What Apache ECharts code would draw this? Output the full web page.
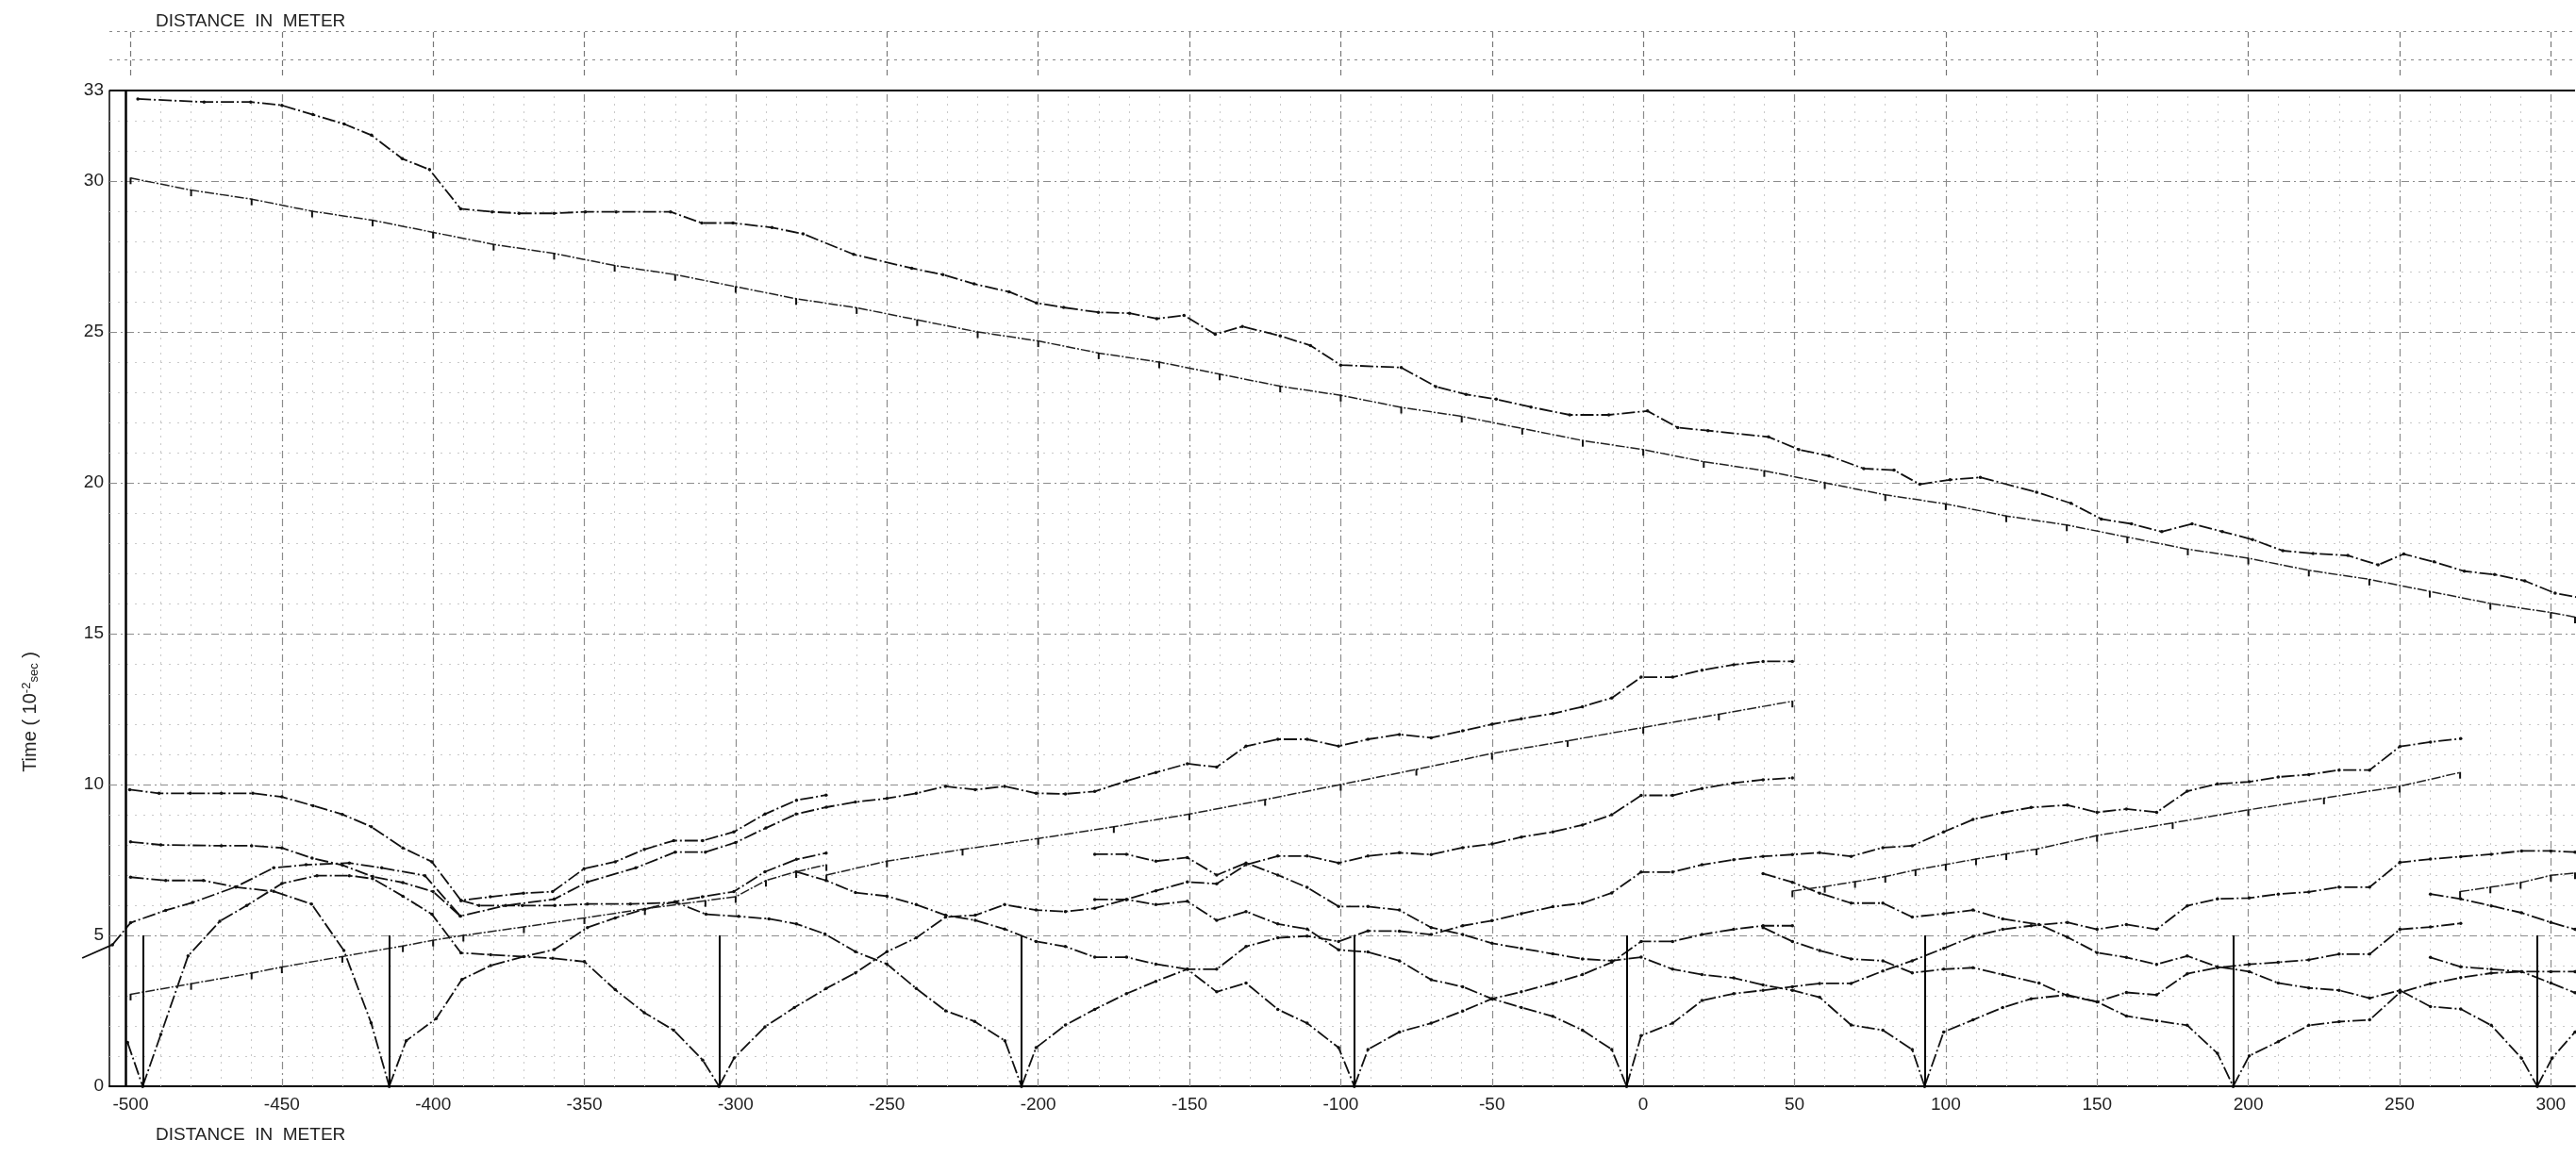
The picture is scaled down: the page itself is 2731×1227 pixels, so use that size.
<!DOCTYPE html>
<html><head><meta charset="utf-8">
<script src="https://cdn.jsdelivr.net/npm/echarts@6/dist/echarts.min.js"></script>
<style>html,body{margin:0;padding:0;background:#fff;}#c{width:2731px;height:1227px;}</style>
</head><body><div id="c"></div>
<script>
// ---------- tick labels ----------
const xTickLabels = [-500,-450,-400,-350,-300,-250,-200,-150,-100,-50,0,50,100,150,200,250,300];
const yTickLabels = [0,5,10,15,20,25,30,33];
// ---------- shot points (vertical markers 0..5) ----------
const shotPositions = [-496,-414.5,-305.5,-205.5,-95.5,-5.5,93,195,295.5];
const shotMarkHeight = [0,5];

// ---------- travel-time curves [distance m, time 1e-2 s] ----------
const farReverse = [[-497.6,32.72],[-475.7,32.62],[-460.3,32.62],[-450,32.51],[-439.7,32.2],[-429.4,31.89],[-420.4,31.52],[-410.2,30.74],[-401.2,30.38],[-390.9,29.08],[-380.5,28.98],[-371.6,28.93],[-360,28.93],[-349.7,28.98],[-339.5,28.98],[-321.5,28.98],[-311.2,28.61],[-300.9,28.61],[-288,28.46],[-277.7,28.25],[-261,27.57],[-241.8,27.11],[-231.5,26.9],[-221.2,26.59],[-209.6,26.33],[-200.6,25.96],[-191.6,25.81],[-180.1,25.65],[-169.8,25.62],[-160.8,25.44],[-151.8,25.55],[-141.5,24.92],[-132.5,25.18],[-120,24.87],[-110,24.55],[-100,23.9],[-80,23.82],[-68.6,23.19],[-58.6,22.93],[-48.6,22.77],[-37.1,22.51],[-24.3,22.25],[-11.4,22.25],[1.4,22.38],[11.4,21.83],[21.4,21.73],[41.4,21.52],[51.4,21.1],[61.4,20.89],[72.9,20.47],[82.9,20.42],[91.4,19.95],[101.4,20.1],[111.4,20.18],[130,19.69],[141.4,19.32],[151.4,18.8],[161.4,18.64],[171.4,18.38],[181.4,18.64],[191.4,18.38],[201.4,18.12],[211.4,17.75],[221.4,17.66],[232.9,17.59],[242.9,17.28],[251.4,17.64],[261.4,17.38],[271.4,17.07],[281.4,16.96],[291.4,16.75],[301.4,16.34],[309,16.2]];
const farReverseFit = [[-500,30.1],[-480,29.7],[-460,29.4],[-440,29.0],[-420,28.7],[-400,28.3],[-380,27.9],[-360,27.6],[-340,27.2],[-320,26.9],[-300,26.5],[-280,26.1],[-260,25.8],[-240,25.4],[-220,25.0],[-200,24.7],[-180,24.3],[-160,24.0],[-140,23.6],[-120,23.2],[-100,22.9],[-80,22.5],[-60,22.2],[-40,21.8],[-20,21.4],[0,21.1],[20,20.7],[40,20.4],[60,20.0],[80,19.6],[100,19.3],[120,18.9],[140,18.6],[160,18.2],[180,17.8],[200,17.5],[220,17.1],[240,16.8],[260,16.4],[280,16.0],[300,15.7],[308,15.55]];

const curveA = [[-500.3,9.83],[-490.6,9.71],[-480.3,9.71],[-470,9.71],[-459.6,9.71],[-450,9.59],[-439.7,9.3],[-430,9.01],[-420.4,8.6],[-410,7.9],[-400.4,7.44],[-390.8,6.16],[-381.1,6.28],[-370.1,6.4],[-360.5,6.45],[-350.1,7.21],[-339.8,7.44],[-330.2,7.85],[-320.5,8.14],[-310.9,8.14],[-300.6,8.43],[-290.3,9.02],[-279.9,9.48],[-270.1,9.65]];
const curveB = [[-500,8.1],[-490,8.0],[-470,7.97],[-460,7.97],[-450,7.9],[-440,7.56],[-430,7.33],[-420,6.95],[-410,6.75],[-400,6.45],[-391,5.64],[-376,5.99],[-360,6.2],[-349,6.77],[-333,7.24],[-320,7.76],[-310,7.76],[-300,8.08],[-290,8.56],[-280,9.02],[-270,9.25],[-260.4,9.42],[-250,9.54],[-240.3,9.71],[-230.6,9.94],[-220.8,9.83],[-211.1,9.94],[-200.7,9.71],[-191,9.69],[-181.3,9.77],[-170.8,10.12],[-161.1,10.4],[-150.7,10.69],[-141,10.58],[-131.3,11.27],[-120.8,11.5],[-111.1,11.5],[-100.7,11.27],[-91,11.5],[-80.6,11.66],[-70.1,11.55],[-59.7,11.78],[-50,12.0],[-40.3,12.18],[-29.9,12.35],[-20.1,12.58],[-10.4,12.87],[-0.7,13.56],[9.7,13.56],[19.4,13.79],[29.9,13.97],[39.6,14.08],[49.3,14.08]];
const curveC = [[-496,0],[-490,1.72],[-481,4.32],[-470.5,5.47],[-461.6,5.99],[-450,6.72],[-438.4,6.98],[-427.7,6.98],[-420,6.88],[-410,6.3],[-400.4,5.7],[-390.8,4.42],[-381,4.36],[-360.5,4.24],[-350,4.13],[-339.8,3.2],[-330.2,2.44],[-320.5,1.86],[-310.9,0.87],[-305.5,0]];
const curveDLead = [[-516,4.25],[-506,4.69]];
const curveD = [[-506,4.69],[-500,5.42],[-488.4,5.83],[-479.5,6.09],[-465.2,6.61],[-452.7,7.24],[-442,7.34],[-427.7,7.4],[-417,7.24],[-402.7,6.98],[-391,5.64]];
const curveE = [[-500,6.93],[-488.4,6.82],[-475.9,6.82],[-465.2,6.6],[-452.7,6.46],[-440.2,6.04],[-429.5,4.5],[-420.5,2.1],[-414.5,0]];
const curveF = [[-414.5,0],[-408.9,1.51],[-399,2.24],[-390.5,3.54],[-381,4.0],[-370,4.3],[-360,4.53],[-349,5.26],[-339.8,5.58],[-330,5.87],[-320,6.12],[-311,6.28],[-300.6,6.45],[-290.3,7.11],[-279.9,7.52],[-270.1,7.73]];
const fitL1 = [[-500,3.05],[-480,3.4],[-460,3.75],[-450,3.95],[-430,4.3],[-410,4.65],[-400,4.84],[-390,5.0],[-370,5.28],[-350,5.58],[-330,5.88],[-310,6.15],[-300,6.28],[-290,6.82],[-280,7.11],[-270,7.34]];
const curveG = [[-390.8,6.16],[-384.8,5.99],[-370.5,5.99],[-359.8,5.99],[-349,6.04],[-334.8,6.04],[-319.6,6.09],[-309.8,5.7],[-299,5.63],[-289,5.55],[-279.9,5.38],[-270.5,5.05],[-260.4,4.46],[-250,4.05],[-240.3,3.24],[-230.6,2.5],[-221,2.15],[-211,1.51],[-205.5,0]];
const curveH = [[-305.5,0],[-300.5,0.94],[-290.3,1.97],[-280.6,2.61],[-270.1,3.24],[-260.4,3.76],[-250,4.46],[-240.3,4.92],[-230.6,5.61],[-220.8,5.67],[-211.1,6.02],[-200.7,5.84],[-191,5.79],[-181.3,5.9],[-170.8,6.19],[-161.1,6.48],[-150.7,6.77],[-141,6.71],[-131.3,7.34],[-120.8,7.63],[-111.1,7.63],[-100.7,7.4],[-91,7.63],[-80.6,7.74],[-70.1,7.68],[-59.7,7.91],[-50,8.03],[-40.3,8.26],[-29.9,8.43],[-20.1,8.66],[-10.4,9.0],[-0.7,9.64],[9.7,9.64],[19.4,9.87],[29.9,10.05],[39.6,10.16],[49.3,10.22]];
const curveI = [[-205.5,0],[-200.7,1.28],[-191,2.03],[-181.3,2.55],[-170.8,3.07],[-161.1,3.48],[-150.7,3.88],[-141,3.88],[-131.3,4.63],[-120.8,4.92],[-111.1,4.98],[-100.7,4.8],[-91,5.15],[-80.6,5.14],[-70.1,5.03],[-59.7,5.32],[-50,5.49],[-40.3,5.72],[-29.9,5.95],[-20.1,6.07],[-10.4,6.41],[-0.7,7.1],[9.7,7.1],[19.4,7.34],[29.9,7.51],[39.6,7.62],[49.3,7.68],[58.3,7.74],[68.7,7.62],[79.2,7.91],[88.9,7.97],[99.3,8.43],[109,8.84],[118.8,9.07],[128.2,9.24],[140.2,9.32],[150,9.08],[159.7,9.19],[169.7,9.08],[179.8,9.78],[189.8,10.02],[200.3,10.09],[209.9,10.25],[220,10.33],[230,10.48],[240.1,10.48],[250.1,11.26],[260.2,11.41],[270.2,11.52]];
const curveJ = [[-280,7.11],[-270.1,6.82],[-260.4,6.42],[-250,6.3],[-240.3,6.02],[-230.6,5.67],[-220.8,5.5],[-211.1,5.21],[-200.7,4.8],[-191,4.63],[-181.3,4.28],[-170.8,4.28],[-161.1,4.05],[-150.7,3.88],[-141,3.13],[-131.3,3.42],[-120.8,2.55],[-111.1,2.09],[-100.7,1.28],[-95.5,0]];
const curveK = [[-95.5,0],[-91,1.22],[-80.6,1.8],[-70.1,2.09],[-59.7,2.49],[-50,2.9],[-40.3,3.13],[-29.9,3.41],[-20.1,3.7],[-10.4,4.11],[-0.7,4.8],[9.7,4.8],[19.4,5.03],[29.9,5.2],[39.6,5.32],[49.3,5.32]];
const curveL = [[-181.3,6.19],[-170.8,6.19],[-161.1,6.02],[-150.7,6.13],[-141,5.5],[-131.3,5.79],[-120.8,5.38],[-111.1,5.21],[-100.7,4.52],[-91,4.45],[-80.6,4.16],[-70.1,3.53],[-59.7,3.3],[-50,2.9],[-40.3,2.61],[-29.9,2.32],[-20.1,1.86],[-10.4,1.22],[-5.5,0]];
const curveM = [[-5.5,0],[-0.7,1.68],[9.7,2.09],[19.4,2.84],[29.9,3.07],[39.6,3.18],[49.3,3.3],[58.3,3.41],[68.7,3.41],[79.2,3.82],[88.9,4.16],[99.3,4.57],[109,4.97],[118.8,5.2],[128.2,5.32],[140.2,5.43],[150,5.2],[159.7,5.36],[169.7,5.2],[179.8,5.98],[189.8,6.21],[200.3,6.24],[209.9,6.37],[220,6.44],[230,6.6],[240.1,6.6],[250.1,7.42],[260.2,7.53],[270.2,7.61],[280.3,7.69],[290.3,7.8],[300,7.8],[308,7.76]];
const curveN = [[-181.3,7.69],[-170.8,7.69],[-161.1,7.46],[-150.7,7.58],[-141,7.0],[-131.3,7.4],[-120.8,7.0],[-111.1,6.59],[-100.7,5.96],[-91,5.96],[-80.6,5.84],[-70.1,5.26],[-59.7,5.03],[-50,4.74],[-40.3,4.57],[-29.9,4.39],[-20.1,4.22],[-10.4,4.16],[-0.7,4.28],[9.7,3.88],[19.4,3.7],[29.9,3.59],[39.6,3.36],[49.3,3.18],[58.3,2.95],[68.7,2.03],[79.2,1.86],[88.9,1.22],[93,0]];
const curveO = [[93,0],[99.3,1.8],[109,2.2],[118.8,2.61],[128.2,2.9],[140.2,3.03],[150,2.8],[159.7,3.11],[169.7,3.03],[179.8,3.73],[189.8,3.93],[200.3,4.04],[209.9,4.11],[220,4.19],[230,4.38],[240.1,4.38],[250.1,5.2],[260.2,5.28],[270.2,5.4]];
const curveP = [[39.6,5.26],[49.3,4.8],[58.3,4.5],[68.7,4.22],[79.2,4.16],[88.9,3.76],[99.3,3.88],[109,3.93],[118.8,3.7],[130.8,3.42],[140.2,3.0],[150,2.8],[159.7,2.33],[169.7,2.17],[179.8,2.02],[189.8,1.09],[195,0]];
const curveQ = [[195,0],[200.3,1.01],[209.9,1.48],[220,2.02],[230,2.14],[240.1,2.2],[250.1,3.11],[260.2,3.4],[270.2,3.6],[280.3,3.75],[290.3,3.8],[300,3.8],[308,3.8]];
const curveR = [[39.6,7.05],[49.3,6.76],[58.3,6.4],[68.7,6.07],[79.2,6.07],[88.9,5.61],[99.3,5.72],[109,5.84],[118.8,5.55],[130.8,5.36],[140.2,4.94],[150,4.43],[159.7,4.27],[169.7,4.04],[179.8,4.32],[189.8,3.96],[200.3,3.8],[209.9,3.42],[220,3.26],[230,3.18],[240.1,2.92],[250.1,3.18],[260.2,2.64],[270.2,2.56],[280.3,2.02],[290.3,0.93],[295.5,0]];
const curveS = [[295.5,0],[300.4,0.93],[308,1.8]];
const curveT = [[260.2,6.37],[270.2,6.21],[280.3,5.98],[290.3,5.75],[300,5.43],[308,5.2]];
const curveU = [[260.2,4.27],[270.2,3.96],[280.3,3.88],[290.3,3.8],[300,3.42],[308,3.1]];
const curveS1Left = [[-501,1.45],[-496,0]];
const fitL2 = [[-270,7.0],[-250,7.46],[-225,7.85],[-200,8.21],[-175,8.6],[-150,9.02],[-125,9.5],[-100,10.0],[-75,10.5],[-50,11.03],[-25,11.45],[0,11.89],[25,12.33],[49.3,12.76]];
const fitL3 = [[49.3,6.47],[60,6.62],[70,6.78],[80,6.95],[90,7.17],[100,7.35],[110,7.53],[120,7.7],[130,7.86],[150,8.31],[175,8.73],[200,9.16],[225,9.55],[250,9.94],[270,10.4]];
const fitL4 = [[270,6.45],[280,6.6],[290,6.75],[300,6.99],[308,7.07]];

// ---------- chart ----------
const X_MIN = -507, X_MAX = 308, Y_MAX = 33;
const FONT = '"Liberation Sans", "DejaVu Sans", sans-serif';
const majorX = []; for (let v = -450; v <= 300; v += 50) majorX.push(v);
const minorX = []; for (let v = -500; v <= 300; v += 10) if (v % 50 !== 0) minorX.push(v);
const bandX = []; for (let v = -500; v <= 300; v += 50) bandX.push(v);
const majorY = []; for (let v = 5; v <= 30; v += 5) majorY.push(v);
const minorY = []; for (let v = 1; v < Y_MAX; v++) if (v % 5 !== 0) minorY.push(v);

function gridLines(coordsList, style, xi, z) {
  return { type: 'lines', coordinateSystem: 'cartesian2d', xAxisIndex: xi || 0, yAxisIndex: xi || 0,
    polyline: false, silent: true, z: z || 1, animation: false,
    lineStyle: Object.assign({ opacity: 1, curveness: 0 }, style),
    data: coordsList.map(c => ({ coords: c })) };
}
function curve(data, opt) {
  return Object.assign({ type: 'line', data: data, xAxisIndex: 0, yAxisIndex: 0,
    showSymbol: true, symbol: 'circle', symbolSize: 3.5, silent: true, animation: false, z: 6,
    itemStyle: { color: '#111' },
    lineStyle: { color: '#111', width: 1.8, type: [14, 3, 2, 3] } }, opt || {});
}
function fitLine(data) {
  return curve(data, { symbol: 'rect', symbolSize: [2, 7], symbolOffset: [0, 3],
    lineStyle: { color: '#222', width: 1.5, type: [10, 2, 2, 2] } });
}

const curves = [curveA, curveB, curveC, curveD, curveE, curveF, curveG, curveH, curveI, curveJ, curveK,
  curveL, curveM, curveN, curveO, curveP, curveQ, curveR, curveS, curveT, curveU, curveS1Left, farReverse];

const series = [
  gridLines(minorX.map(v => [[v, 0], [v, Y_MAX]]), { color: '#c9c9c9', width: 1, type: [2, 6] }),
  gridLines(minorY.map(v => [[X_MIN, v], [X_MAX, v]]), { color: '#c9c9c9', width: 1, type: [2, 7] }),
  gridLines(majorX.map(v => [[v, 0], [v, Y_MAX]]), { color: '#8c8c8c', width: 1.2, type: [8, 4, 2, 4] }, 0, 2),
  gridLines(majorY.map(v => [[X_MIN, v], [X_MAX, v]]), { color: '#8c8c8c', width: 1.2, type: [8, 4, 2, 4] }, 0, 2),
  gridLines([[[-501.5, 0], [-501.5, Y_MAX]]], { color: '#000', width: 2.5, type: 'solid' }, 0, 8),
  gridLines([[[X_MIN, Y_MAX], [X_MAX, Y_MAX]]], { color: '#000', width: 2, type: 'solid' }, 0, 8),
  gridLines(shotPositions.map(s => [[s, shotMarkHeight[0]], [s, shotMarkHeight[1]]]), { color: '#000', width: 2, type: 'solid' }, 0, 7),
  // lead-in of the off-end shot curve, drawn across the left frame
  gridLines([curveDLead], { color: '#111', width: 1.8, type: 'solid' }, 0, 6),
  // top distance band
  gridLines(bandX.map(v => [[v, 0], [v, 47]]), { color: '#777', width: 1.2, type: [6, 4] }, 1, 1),
  gridLines([[[X_MIN, 17], [X_MAX, 17]], [[X_MIN, 47], [X_MAX, 47]]], { color: '#888', width: 1.2, type: [3, 5] }, 1, 1)
];
series[7].clip = false;
curves.forEach(c => series.push(curve(c)));
[farReverseFit, fitL1, fitL2, fitL3, fitL4].forEach(c => series.push(fitLine(c)));

const chart = echarts.init(document.getElementById('c'), null, { renderer: 'canvas' });
chart.setOption({
  backgroundColor: '#ffffff',
  animation: false,
  grid: [
    { left: 116, right: 1, top: 96, height: 1056 },
    { left: 116, right: 1, top: 33, height: 47 }
  ],
  xAxis: [
    { type: 'value', gridIndex: 0, min: X_MIN, max: X_MAX,
      axisLine: { show: true, onZero: false, lineStyle: { color: '#000', width: 2 } },
      axisTick: { show: false }, splitLine: { show: false },
      axisLabel: { customValues: xTickLabels, color: '#222', fontSize: 19, fontFamily: FONT, margin: 10 } },
    { type: 'value', gridIndex: 1, min: X_MIN, max: X_MAX, show: false }
  ],
  yAxis: [
    { type: 'value', gridIndex: 0, min: 0, max: Y_MAX,
      axisLine: { show: true, onZero: false, lineStyle: { color: '#000', width: 1.5 } },
      axisTick: { show: false }, splitLine: { show: false },
      axisLabel: { customValues: yTickLabels, color: '#222', fontSize: 19, fontFamily: FONT, margin: 6 } },
    { type: 'value', gridIndex: 1, min: 0, max: 47, show: false }
  ],
  graphic: [
    { type: 'text', left: 165, top: 1194, silent: true,
      style: { text: 'DISTANCE  IN  METER', fontSize: 19, fontFamily: FONT, fill: '#222' } },
    { type: 'text', left: 165, top: 13, silent: true,
      style: { text: 'DISTANCE  IN  METER', fontSize: 19, fontFamily: FONT, fill: '#222' } },
    { type: 'text', x: 32, y: 755, rotation: Math.PI / 2, silent: true,
      style: { text: '{n|Time ( 10}{sup|-2}{sub|sec}{n| )}', align: 'center', verticalAlign: 'middle',
        rich: {
          n: { fontSize: 20, fontFamily: FONT, fill: '#222', color: '#222' },
          sup: { fontSize: 13, fontFamily: FONT, fill: '#222', color: '#222', verticalAlign: 'top', padding: [0, 0, 8, 0] },
          sub: { fontSize: 13, fontFamily: FONT, fill: '#222', color: '#222', verticalAlign: 'bottom', padding: [6, 0, 0, 0] }
        } } }
  ],
  series: series
});
</script>
</body></html>
